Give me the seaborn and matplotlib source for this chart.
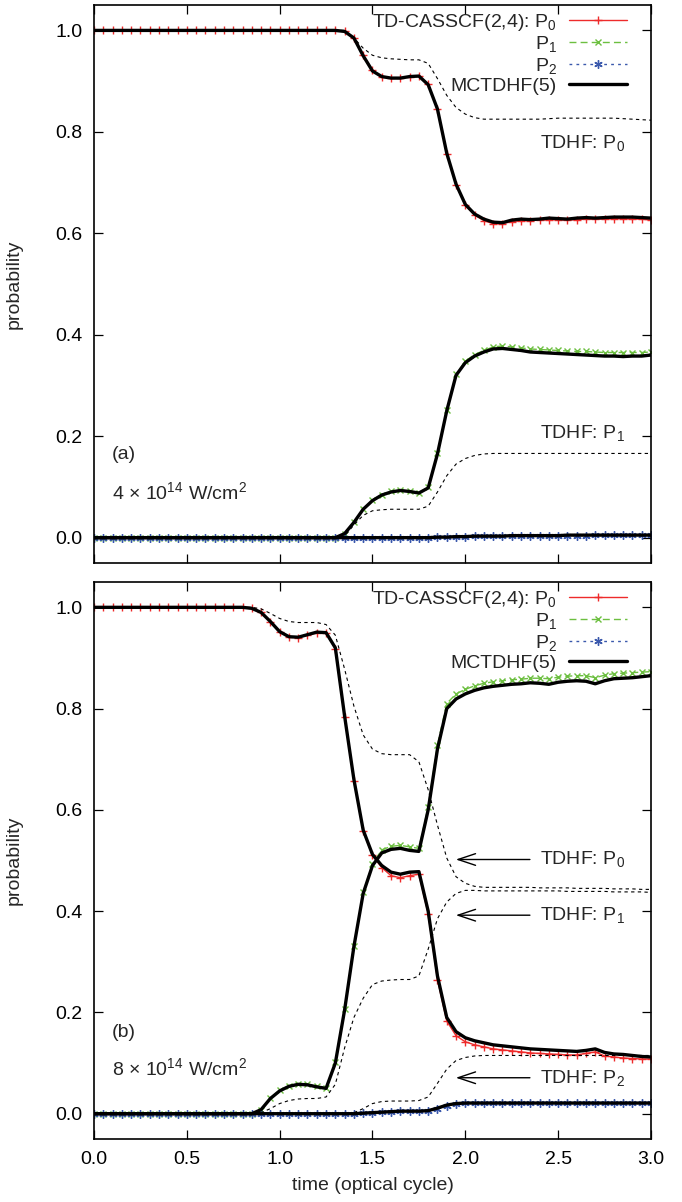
import matplotlib
matplotlib.use("Agg")
import matplotlib.pyplot as plt
import seaborn as sns
from matplotlib.lines import Line2D
from matplotlib.ticker import FormatStrFormatter

# ---------------- data ----------------
time = [0.00, 0.05, 0.10, 0.15, 0.20, 0.25, 0.30, 0.35, 0.40, 0.45,
        0.50, 0.55, 0.60, 0.65, 0.70, 0.75, 0.80, 0.85, 0.90, 0.95,
        1.00, 1.05, 1.10, 1.15, 1.20, 1.25, 1.30, 1.35, 1.40, 1.45,
        1.50, 1.55, 1.60, 1.65, 1.70, 1.75, 1.80, 1.85, 1.90, 1.95,
        2.00, 2.05, 2.10, 2.15, 2.20, 2.25, 2.30, 2.35, 2.40, 2.45,
        2.50, 2.55, 2.60, 2.65, 2.70, 2.75, 2.80, 2.85, 2.90, 2.95,
        3.00]

# panel (a): 4e14 W/cm^2
a_cas_p0 = [1.0, 1.0, 1.0, 1.0, 1.0, 1.0, 1.0, 1.0, 1.0, 1.0,
            1.0, 1.0, 1.0, 1.0, 1.0, 1.0, 1.0, 1.0, 1.0, 1.0,
            1.0, 1.0, 1.0, 1.0, 1.0, 1.0, 1.0, 0.998, 0.985, 0.951,
            0.921, 0.909, 0.906, 0.906, 0.909, 0.911, 0.894, 0.846, 0.757, 0.696,
            0.655, 0.636, 0.625, 0.619, 0.619, 0.623, 0.625, 0.625, 0.626, 0.627,
            0.627, 0.626, 0.627, 0.628, 0.628, 0.628, 0.629, 0.629, 0.628, 0.628,
            0.626]
a_mct_p0 = [1.0, 1.0, 1.0, 1.0, 1.0, 1.0, 1.0, 1.0, 1.0, 1.0,
            1.0, 1.0, 1.0, 1.0, 1.0, 1.0, 1.0, 1.0, 1.0, 1.0,
            1.0, 1.0, 1.0, 1.0, 1.0, 1.0, 1.0, 0.998, 0.985, 0.950,
            0.920, 0.909, 0.906, 0.906, 0.909, 0.910, 0.893, 0.845, 0.758, 0.697,
            0.657, 0.638, 0.628, 0.622, 0.621, 0.626, 0.628, 0.627, 0.628, 0.630,
            0.629, 0.628, 0.630, 0.631, 0.630, 0.631, 0.632, 0.632, 0.632, 0.631,
            0.630]
a_cas_p1 = [0.0, 0.0, 0.0, 0.0, 0.0, 0.0, 0.0, 0.0, 0.0, 0.0,
            0.0, 0.0, 0.0, 0.0, 0.0, 0.0, 0.0, 0.0, 0.0, 0.0,
            0.0, 0.0, 0.0, 0.0, 0.0, 0.0, 0.0, 0.008, 0.031, 0.057,
            0.074, 0.085, 0.091, 0.094, 0.092, 0.089, 0.099, 0.166, 0.252, 0.322,
            0.348, 0.361, 0.369, 0.376, 0.378, 0.376, 0.374, 0.372, 0.371, 0.370,
            0.369, 0.368, 0.367, 0.367, 0.366, 0.365, 0.365, 0.365, 0.365, 0.365,
            0.366]
a_mct_p1 = [0.0, 0.0, 0.0, 0.0, 0.0, 0.0, 0.0, 0.0, 0.0, 0.0,
            0.0, 0.0, 0.0, 0.0, 0.0, 0.0, 0.0, 0.0, 0.0, 0.0,
            0.0, 0.0, 0.0, 0.0, 0.0, 0.0, 0.0, 0.008, 0.030, 0.056,
            0.073, 0.084, 0.090, 0.093, 0.091, 0.088, 0.098, 0.165, 0.250, 0.320,
            0.345, 0.358, 0.366, 0.372, 0.373, 0.371, 0.369, 0.366, 0.365, 0.364,
            0.363, 0.362, 0.361, 0.360, 0.359, 0.358, 0.358, 0.357, 0.358, 0.358,
            0.360]
a_cas_p2 = [0.0, 0.0, 0.0, 0.0, 0.0, 0.0, 0.0, 0.0, 0.0, 0.0,
            0.0, 0.0, 0.0, 0.0, 0.0, 0.0, 0.0, 0.0, 0.0, 0.0,
            0.0, 0.0, 0.0, 0.0, 0.0, 0.0, 0.0, 0.0, 0.0, 0.0,
            0.0, 0.0, 0.0, 0.0, 0.0, 0.0, 0.0, 0.001, 0.001, 0.002,
            0.002, 0.003, 0.003, 0.003, 0.003, 0.003, 0.004, 0.004, 0.004, 0.004,
            0.004, 0.004, 0.004, 0.004, 0.005, 0.005, 0.005, 0.005, 0.005, 0.005,
            0.005]
a_mct_p2 = [0.0, 0.0, 0.0, 0.0, 0.0, 0.0, 0.0, 0.0, 0.0, 0.0,
            0.0, 0.0, 0.0, 0.0, 0.0, 0.0, 0.0, 0.0, 0.0, 0.0,
            0.0, 0.0, 0.0, 0.0, 0.0, 0.0, 0.0, 0.0, 0.0, 0.0,
            0.0, 0.0, 0.0, 0.0, 0.0, 0.0, 0.0, 0.001, 0.001, 0.002,
            0.002, 0.003, 0.003, 0.003, 0.003, 0.004, 0.004, 0.004, 0.004, 0.004,
            0.004, 0.005, 0.005, 0.005, 0.005, 0.005, 0.005, 0.005, 0.005, 0.005,
            0.005]
a_tdhf_p0 = [1.0, 1.0, 1.0, 1.0, 1.0, 1.0, 1.0, 1.0, 1.0, 1.0,
             1.0, 1.0, 1.0, 1.0, 1.0, 1.0, 1.0, 1.0, 1.0, 1.0,
             1.0, 1.0, 1.0, 1.0, 1.0, 1.0, 1.0, 1.0, 0.985, 0.965,
             0.951, 0.946, 0.944, 0.943, 0.942, 0.942, 0.935, 0.905, 0.872, 0.848,
             0.835, 0.828, 0.825, 0.825, 0.825, 0.825, 0.825, 0.825, 0.825, 0.826,
             0.827, 0.827, 0.827, 0.827, 0.827, 0.827, 0.827, 0.826, 0.825, 0.824,
             0.823]
a_tdhf_p1 = [0.0, 0.0, 0.0, 0.0, 0.0, 0.0, 0.0, 0.0, 0.0, 0.0,
             0.0, 0.0, 0.0, 0.0, 0.0, 0.0, 0.0, 0.0, 0.0, 0.0,
             0.0, 0.0, 0.0, 0.0, 0.0, 0.0, 0.0, 0.003, 0.025, 0.044,
             0.053, 0.055, 0.056, 0.056, 0.056, 0.056, 0.062, 0.090, 0.122, 0.145,
             0.156, 0.162, 0.165, 0.166, 0.166, 0.166, 0.166, 0.166, 0.166, 0.166,
             0.166, 0.166, 0.166, 0.166, 0.166, 0.166, 0.166, 0.166, 0.166, 0.166,
             0.166]

# panel (b): 8e14 W/cm^2
b_cas_p0 = [1.0, 1.0, 1.0, 1.0, 1.0, 1.0, 1.0, 1.0, 1.0, 1.0,
            1.0, 1.0, 1.0, 1.0, 1.0, 1.0, 1.0, 0.998, 0.990, 0.972,
            0.952, 0.942, 0.940, 0.945, 0.950, 0.949, 0.918, 0.783, 0.658, 0.558,
            0.510, 0.486, 0.470, 0.466, 0.470, 0.473, 0.395, 0.265, 0.183, 0.154,
            0.142, 0.136, 0.132, 0.128, 0.126, 0.124, 0.122, 0.120, 0.119, 0.118,
            0.117, 0.116, 0.116, 0.119, 0.122, 0.114, 0.112, 0.110, 0.109, 0.108,
            0.108]
b_mct_p0 = [1.0, 1.0, 1.0, 1.0, 1.0, 1.0, 1.0, 1.0, 1.0, 1.0,
            1.0, 1.0, 1.0, 1.0, 1.0, 1.0, 1.0, 0.998, 0.990, 0.972,
            0.952, 0.942, 0.941, 0.946, 0.951, 0.950, 0.920, 0.785, 0.660, 0.560,
            0.512, 0.490, 0.477, 0.473, 0.477, 0.478, 0.400, 0.272, 0.190, 0.162,
            0.150, 0.144, 0.140, 0.136, 0.134, 0.132, 0.130, 0.128, 0.127, 0.126,
            0.125, 0.124, 0.123, 0.125, 0.128, 0.121, 0.118, 0.117, 0.115, 0.113,
            0.112]
b_cas_p1 = [0.0, 0.0, 0.0, 0.0, 0.0, 0.0, 0.0, 0.0, 0.0, 0.0,
            0.0, 0.0, 0.0, 0.0, 0.0, 0.0, 0.0, 0.0, 0.008, 0.031,
            0.046, 0.055, 0.059, 0.058, 0.054, 0.051, 0.102, 0.207, 0.332, 0.437,
            0.494, 0.521, 0.528, 0.530, 0.527, 0.524, 0.606, 0.728, 0.810, 0.829,
            0.838, 0.845, 0.850, 0.853, 0.855, 0.857, 0.858, 0.860, 0.860, 0.859,
            0.862, 0.864, 0.865, 0.865, 0.861, 0.866, 0.869, 0.870, 0.871, 0.872,
            0.873]
b_mct_p1 = [0.0, 0.0, 0.0, 0.0, 0.0, 0.0, 0.0, 0.0, 0.0, 0.0,
            0.0, 0.0, 0.0, 0.0, 0.0, 0.0, 0.0, 0.0, 0.008, 0.030,
            0.045, 0.054, 0.058, 0.057, 0.053, 0.050, 0.100, 0.205, 0.330, 0.435,
            0.490, 0.515, 0.522, 0.524, 0.520, 0.518, 0.600, 0.720, 0.800, 0.819,
            0.829, 0.836, 0.841, 0.844, 0.846, 0.848, 0.849, 0.851, 0.850, 0.848,
            0.852, 0.854, 0.855, 0.854, 0.849, 0.855, 0.859, 0.860, 0.861, 0.863,
            0.865]
b_cas_p2 = [0.0, 0.0, 0.0, 0.0, 0.0, 0.0, 0.0, 0.0, 0.0, 0.0,
            0.0, 0.0, 0.0, 0.0, 0.0, 0.0, 0.0, 0.0, 0.0, 0.0,
            0.0, 0.0, 0.0, 0.0, 0.0, 0.0, 0.0, 0.0, 0.0, 0.001,
            0.002, 0.003, 0.004, 0.005, 0.005, 0.005, 0.006, 0.010, 0.016, 0.019,
            0.021, 0.021, 0.021, 0.021, 0.021, 0.021, 0.021, 0.021, 0.021, 0.021,
            0.021, 0.021, 0.022, 0.022, 0.022, 0.022, 0.022, 0.022, 0.022, 0.022,
            0.022]
b_mct_p2 = [0.0, 0.0, 0.0, 0.0, 0.0, 0.0, 0.0, 0.0, 0.0, 0.0,
            0.0, 0.0, 0.0, 0.0, 0.0, 0.0, 0.0, 0.0, 0.0, 0.0,
            0.0, 0.0, 0.0, 0.0, 0.0, 0.0, 0.0, 0.0, 0.0, 0.001,
            0.002, 0.003, 0.004, 0.005, 0.005, 0.005, 0.006, 0.011, 0.017, 0.020,
            0.021, 0.021, 0.021, 0.021, 0.021, 0.021, 0.021, 0.021, 0.021, 0.021,
            0.021, 0.021, 0.021, 0.021, 0.021, 0.021, 0.021, 0.021, 0.021, 0.021,
            0.021]
b_tdhf_p0 = [1.0, 1.0, 1.0, 1.0, 1.0, 1.0, 1.0, 1.0, 1.0, 1.0,
             1.0, 1.0, 1.0, 1.0, 1.0, 1.0, 1.0, 1.0, 0.997, 0.988,
             0.978, 0.972, 0.970, 0.970, 0.970, 0.966, 0.945, 0.878, 0.805, 0.748,
             0.720, 0.711, 0.709, 0.709, 0.709, 0.695, 0.640, 0.570, 0.505, 0.468,
             0.455, 0.449, 0.447, 0.447, 0.447, 0.447, 0.447, 0.447, 0.446, 0.446,
             0.446, 0.446, 0.445, 0.445, 0.445, 0.445, 0.444, 0.444, 0.444, 0.443,
             0.443]
b_tdhf_p1 = [0.0, 0.0, 0.0, 0.0, 0.0, 0.0, 0.0, 0.0, 0.0, 0.0,
             0.0, 0.0, 0.0, 0.0, 0.0, 0.0, 0.0, 0.0, 0.002, 0.010,
             0.020, 0.026, 0.029, 0.030, 0.030, 0.033, 0.058, 0.130, 0.190, 0.228,
             0.255, 0.262, 0.264, 0.265, 0.265, 0.272, 0.325, 0.385, 0.418, 0.435,
             0.441, 0.441, 0.440, 0.440, 0.440, 0.440, 0.440, 0.440, 0.440, 0.440,
             0.440, 0.439, 0.439, 0.439, 0.439, 0.439, 0.438, 0.438, 0.438, 0.438,
             0.437]
b_tdhf_p2 = [0.0, 0.0, 0.0, 0.0, 0.0, 0.0, 0.0, 0.0, 0.0, 0.0,
             0.0, 0.0, 0.0, 0.0, 0.0, 0.0, 0.0, 0.0, 0.0, 0.0,
             0.0, 0.0, 0.0, 0.0, 0.0, 0.0, 0.0, 0.0, 0.002, 0.010,
             0.020, 0.024, 0.025, 0.025, 0.025, 0.026, 0.033, 0.060, 0.088, 0.105,
             0.111, 0.114, 0.115, 0.115, 0.115, 0.115, 0.115, 0.115, 0.115, 0.115,
             0.115, 0.115, 0.115, 0.115, 0.115, 0.115, 0.115, 0.115, 0.115, 0.115,
             0.115]

legend_labels = ["TD-CASSCF(2,4): P$_0$", "P$_1$", "P$_2$", "MCTDHF(5)"]
x_ticks = [0.0, 0.5, 1.0, 1.5, 2.0, 2.5, 3.0]
y_ticks = [0.0, 0.2, 0.4, 0.6, 0.8, 1.0]

# ---------------- style ----------------
sns.set_theme(style="ticks")
plt.rcParams['font.family'] = ['Liberation Sans', 'DejaVu Sans']
plt.rcParams['mathtext.fontset'] = 'custom'
plt.rcParams['mathtext.rm'] = 'Liberation Sans'
plt.rcParams['mathtext.it'] = 'Liberation Sans:italic'
plt.rcParams['mathtext.default'] = 'regular'

FS = 14
RED = '#ee2b2b'
GREEN = '#6cbf40'
BLUE = '#3a58ac'

fig = plt.figure(figsize=(6.82, 12.02), dpi=100)
ax1 = fig.add_axes([0.1378, 0.5316, 0.8167, 0.4642])
ax2 = fig.add_axes([0.1378, 0.0524, 0.8167, 0.4634])


def draw(ax, y, **kw):
    sns.lineplot(x=time, y=y, ax=ax, estimator=None, sort=False, legend=False, **kw)


def panel(ax, cas0, cas1, cas2, mct0, mct1, mct2, tdhf):
    draw(ax, cas0, color=RED, linewidth=1.0, marker='+', markersize=6,
         markeredgewidth=1.0, markeredgecolor=RED)
    draw(ax, cas1, color=GREEN, linewidth=1.0, linestyle=(0, (5, 3)), marker='x',
         markersize=5, markeredgewidth=1.0, markeredgecolor=GREEN)
    draw(ax, cas2, color=BLUE, linewidth=1.0, linestyle=(0, (2, 3)), marker=(6, 2, 0),
         markersize=6, markeredgewidth=1.0, markeredgecolor=BLUE)
    for td in tdhf:
        draw(ax, td, color='black', linewidth=0.8, linestyle=(0, (3, 3)))
    for m in (mct0, mct1, mct2):
        draw(ax, m, color='black', linewidth=2.4)

    ax.set_xlim(0, 3)
    ax.set_ylim(-0.05, 1.05)
    ax.set_xticks(x_ticks)
    ax.set_yticks(y_ticks)
    ax.xaxis.set_major_formatter(FormatStrFormatter('%.1f'))
    ax.yaxis.set_major_formatter(FormatStrFormatter('%.1f'))
    ax.tick_params(direction='in', length=6.5, width=0.9, top=True, right=True,
                   labelsize=FS, pad=8.5, colors='black')
    for s in ax.spines.values():
        s.set_linewidth(1.2)
        s.set_color('black')
    ax.set_ylabel("probability", fontsize=FS)
    ax.yaxis.set_label_coords(-0.128, 0.5)
    ax.set_xlabel("")

    handles = [
        Line2D([0], [0], color=RED, lw=1.0, marker='+', ms=6, mew=1.0),
        Line2D([0], [0], color=GREEN, lw=1.0, ls=(0, (5, 3)), marker='x', ms=5, mew=1.0),
        Line2D([0], [0], color=BLUE, lw=1.0, ls=(0, (2, 3)), marker=(6, 2, 0), ms=6, mew=1.0),
        Line2D([0], [0], color='black', lw=2.4),
    ]
    ax.legend(handles, legend_labels, loc='upper right', bbox_to_anchor=(0.957, 0.988),
              frameon=False, markerfirst=False, handlelength=3.0, handletextpad=0.6,
              labelspacing=0.08, borderpad=0, borderaxespad=0, fontsize=FS)


panel(ax1, a_cas_p0, a_cas_p1, a_cas_p2, a_mct_p0, a_mct_p1, a_mct_p2,
      [a_tdhf_p0, a_tdhf_p1])
panel(ax2, b_cas_p0, b_cas_p1, b_cas_p2, b_mct_p0, b_mct_p1, b_mct_p2,
      [b_tdhf_p0, b_tdhf_p1, b_tdhf_p2])

ax1.tick_params(labelbottom=False)

# panel (a) annotations
ax1.text(2.40, 0.779, "TDHF: P$_0$", fontsize=FS, ha='left', va='center')
ax1.text(2.40, 0.207, "TDHF: P$_1$", fontsize=FS, ha='left', va='center')
ax1.text(0.097, 0.164, "(a)", fontsize=FS, ha='left', va='center')
ax1.text(0.097, 0.090, "4 × 10$^{14}$ W/cm$^2$", fontsize=FS, ha='left', va='center')

# panel (b) annotations with arrows
arrow = dict(arrowstyle='->,head_length=0.9,head_width=0.3', color='black', lw=1.0,
             shrinkA=0, shrinkB=0)
for lab, yv in (("TDHF: P$_0$", 0.502), ("TDHF: P$_1$", 0.392), ("TDHF: P$_2$", 0.071)):
    ax2.annotate("", xy=(1.949, yv), xytext=(2.348, yv), arrowprops=arrow, fontsize=FS)
    ax2.text(2.402, yv, lab, fontsize=FS, ha='left', va='center')
ax2.text(0.097, 0.161, "(b)", fontsize=FS, ha='left', va='center')
ax2.text(0.097, 0.089, "8 × 10$^{14}$ W/cm$^2$", fontsize=FS, ha='left', va='center')

ax2.set_xlabel("time (optical cycle)", fontsize=FS)
ax2.xaxis.set_label_coords(0.5, -0.068)

fig.savefig("out.png", dpi=100)
